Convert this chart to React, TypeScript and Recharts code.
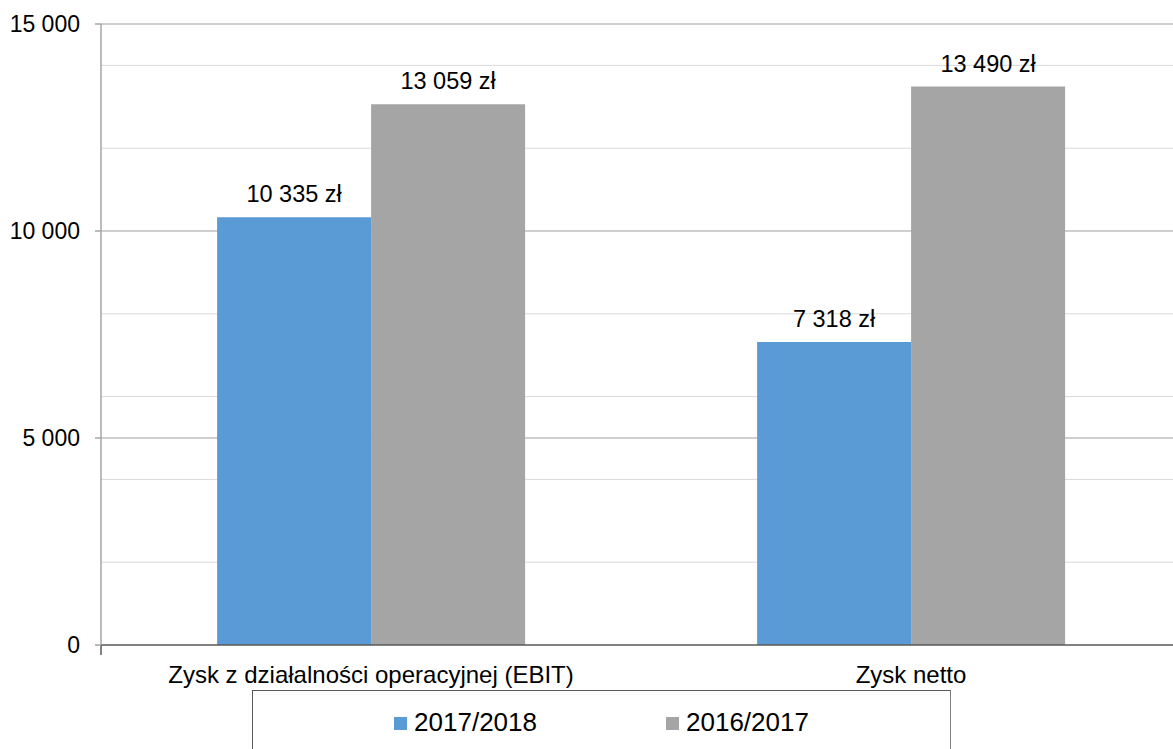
import React from 'react';
import { BarChart, Bar, XAxis, YAxis, CartesianGrid, LabelList, Legend } from 'recharts';

const categories = ['Zysk z działalności operacyjnej (EBIT)', 'Zysk netto'];
const series2018 = [10335, 7318];
const series2017 = [13059, 13490];
const seriesNames = ['2017/2018', '2016/2017'];
const seriesColors = ['#5b9bd5', '#a5a5a5'];
const yTicks = [0, 5000, 10000, 15000];
const minorGrid = [2000, 4000, 6000, 8000, 12000, 14000];
const majorGrid = [5000, 10000, 15000];
const boundaryTicks = [0, 1, 2];

const data = categories.map((name, i) => ({ name, a: series2018[i], b: series2017[i] }));

const fmt = (v: number) => String(v).replace(/\B(?=(\d{3})+(?!\d))/g, ' ');
const FONT = '"Liberation Sans", Arial, sans-serif';

const LegendBox = () => (
  <div
    style={{
      width: 699,
      height: 90,
      boxSizing: 'border-box',
      borderTop: '1.5px solid #595959',
      borderLeft: '1.5px solid #595959',
      borderRight: '1.5px solid #7f7f7f',
      display: 'flex',
      justifyContent: 'center',
      alignItems: 'flex-start',
      paddingTop: 16,
      gap: 129,
      fontFamily: FONT,
      fontSize: 26,
      color: '#000',
    }}
  >
    {seriesNames.map((n, i) => (
      <div key={n} style={{ display: 'flex', alignItems: 'center', lineHeight: '30px' }}>
        <span style={{ width: 13, height: 13, background: seriesColors[i], marginRight: 7, display: 'inline-block', marginTop: 3 }} />
        <span>{n}</span>
      </div>
    ))}
  </div>
);

const EmptyTick = () => <g />;

export default function App() {
  return (
    <div style={{ position: 'absolute', left: 0, top: 0, width: 1173, height: 749, overflow: 'hidden', background: '#fff', fontFamily: FONT }}>
      <BarChart
        width={1200}
        height={749}
        data={data}
        margin={{ top: 24, right: 19, bottom: 62, left: 0 }}
        barCategoryGap="21.5%"
        barGap={0}
        style={{ fontFamily: FONT }}
      >
        <CartesianGrid xAxisId="b" vertical={false} horizontalValues={minorGrid} stroke="#d9d9d9" strokeWidth={1} />
        <CartesianGrid xAxisId="b" vertical={false} horizontalValues={majorGrid} stroke="#bfbfbf" strokeWidth={1.5} />
        <XAxis
          xAxisId="b"
          dataKey="name"
          height={40}
          axisLine={false}
          tickLine={false}
          tickSize={10}
          tickMargin={9}
          tick={{ fill: '#000', fontSize: 24, fontFamily: FONT }}
          interval={0}
        />
        <XAxis
          xAxisId="a"
          type="number"
          domain={[0, categories.length]}
          ticks={boundaryTicks}
          allowDataOverflow
          height={2}
          axisLine={{ stroke: '#595959', strokeWidth: 1.5 }}
          tick={EmptyTick}
          tickSize={10}
          tickLine={{ stroke: '#595959', strokeWidth: 1.5 }}
        />
        <YAxis
          width={101}
          domain={[0, 15000]}
          ticks={yTicks}
          allowDataOverflow
          axisLine={{ stroke: '#a6a6a6', strokeWidth: 1.5 }}
          tickLine={{ stroke: '#a6a6a6', strokeWidth: 1.5 }}
          tickSize={6}
          tickMargin={15}
          tickFormatter={fmt}
          tick={{ fill: '#000', fontSize: 23, fontFamily: FONT }}
        />
        <Legend
          layout="horizontal"
          verticalAlign="middle"
          align="center"
          wrapperStyle={{ position: 'absolute', left: 252, top: 690, width: 699, height: 90, bottom: 'auto' }}
          content={() => <LegendBox />}
        />
        <Bar xAxisId="b" dataKey="a" name={seriesNames[0]} fill={seriesColors[0]} isAnimationActive={false}>
          <LabelList dataKey="a" position="top" offset={15} formatter={(v: any) => fmt(v) + ' zł'} style={{ fill: '#000', fontSize: 23.5, fontFamily: FONT }} />
        </Bar>
        <Bar xAxisId="b" dataKey="b" name={seriesNames[1]} fill={seriesColors[1]} isAnimationActive={false}>
          <LabelList dataKey="b" position="top" offset={15} formatter={(v: any) => fmt(v) + ' zł'} style={{ fill: '#000', fontSize: 23.5, fontFamily: FONT }} />
        </Bar>
      </BarChart>
    </div>
  );
}
